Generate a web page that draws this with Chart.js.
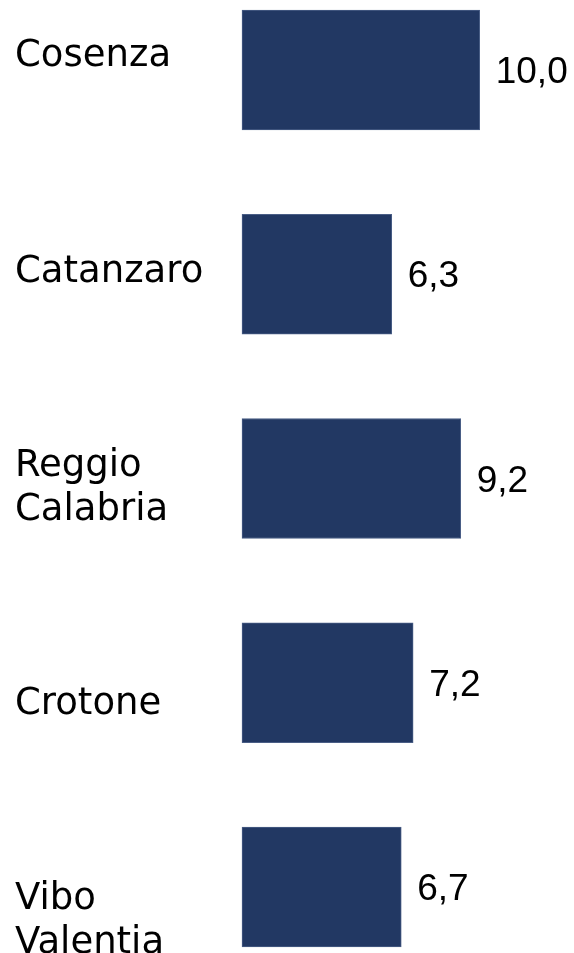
<!DOCTYPE html>
<html lang="it">
<head>
<meta charset="utf-8">
<script src="https://cdn.jsdelivr.net/npm/chart.js@4"></script>
<style>
    html, body { margin: 0; padding: 0; background: #fff; }
    #wrap { width: 574px; height: 953px; position: relative; }
</style>
</head>
<body>
<div id="wrap"><canvas id="provinceChart"></canvas></div>
<script>
const provinces = ["Cosenza", "Catanzaro", ["Reggio", "Calabria"], "Crotone", ["Vibo", "Valentia"]];
const rates = [10.0, 6.3, 9.2, 7.2, 6.7];

document.addEventListener("DOMContentLoaded", () => {

    /* ===================== LABELS ===================== */
    // nomi delle province a sinistra, leggermente più distanziati delle barre
    const categoryLabels = {
        id: "categoryLabels",
        afterDraw(chart) {
            const { ctx } = chart;
            const yScale = chart.scales.y;
            const mid = (yScale.top + yScale.bottom) / 2;
            ctx.save();
            ctx.font = "37px 'DejaVu Sans'";
            ctx.fillStyle = "#000";
            ctx.textAlign = "left";
            ctx.textBaseline = "middle";
            provinces.forEach((label, i) => {
                const lines = Array.isArray(label) ? label : [label];
                const yc = mid + (yScale.getPixelForTick(i) - mid) * 1.059 + 10;
                lines.forEach((line, j) => {
                    ctx.fillText(line, 15, yc + (j - (lines.length - 1) / 2) * 44);
                });
            });
            ctx.restore();
        },
    };

    // valori a destra delle barre
    const valueLabels = {
        id: "valueLabels",
        afterDatasetsDraw(chart) {
            const { ctx } = chart;
            const meta = chart.getDatasetMeta(0);
            ctx.save();
            ctx.font = "37px 'Liberation Sans'";
            ctx.fillStyle = "#000";
            ctx.textAlign = "left";
            ctx.textBaseline = "middle";
            meta.data.forEach((bar, i) => {
                const txt = rates[i].toFixed(1).replace(".", ",");
                ctx.fillText(txt, bar.x + 16, bar.y + 3);
            });
            ctx.restore();
        },
    };

    /* ===================== CHART ===================== */
    new Chart(document.getElementById("provinceChart"), {
        type: "bar",
        data: {
            labels: provinces,
            datasets: [
                {
                    data: rates,
                    backgroundColor: "#223863",
                    borderColor: "#4a5e86",
                    borderWidth: 1,
                    borderSkipped: false,
                    barThickness: 120,
                    clip: false,
                },
            ],
        },
        options: {
            indexAxis: "y",
            responsive: true,
            maintainAspectRatio: false,
            animation: false,
            layout: {
                padding: { left: 242, right: 23, top: 70, bottom: 66 },
            },
            plugins: {
                legend: { display: false },
                tooltip: { enabled: false },
            },
            scales: {
                x: {
                    display: false,
                    min: 0,
                    max: 13,
                },
                y: {
                    display: false,
                    offset: false,
                },
            },
        },
        plugins: [categoryLabels, valueLabels],
    });
});
</script>
</body>
</html>
